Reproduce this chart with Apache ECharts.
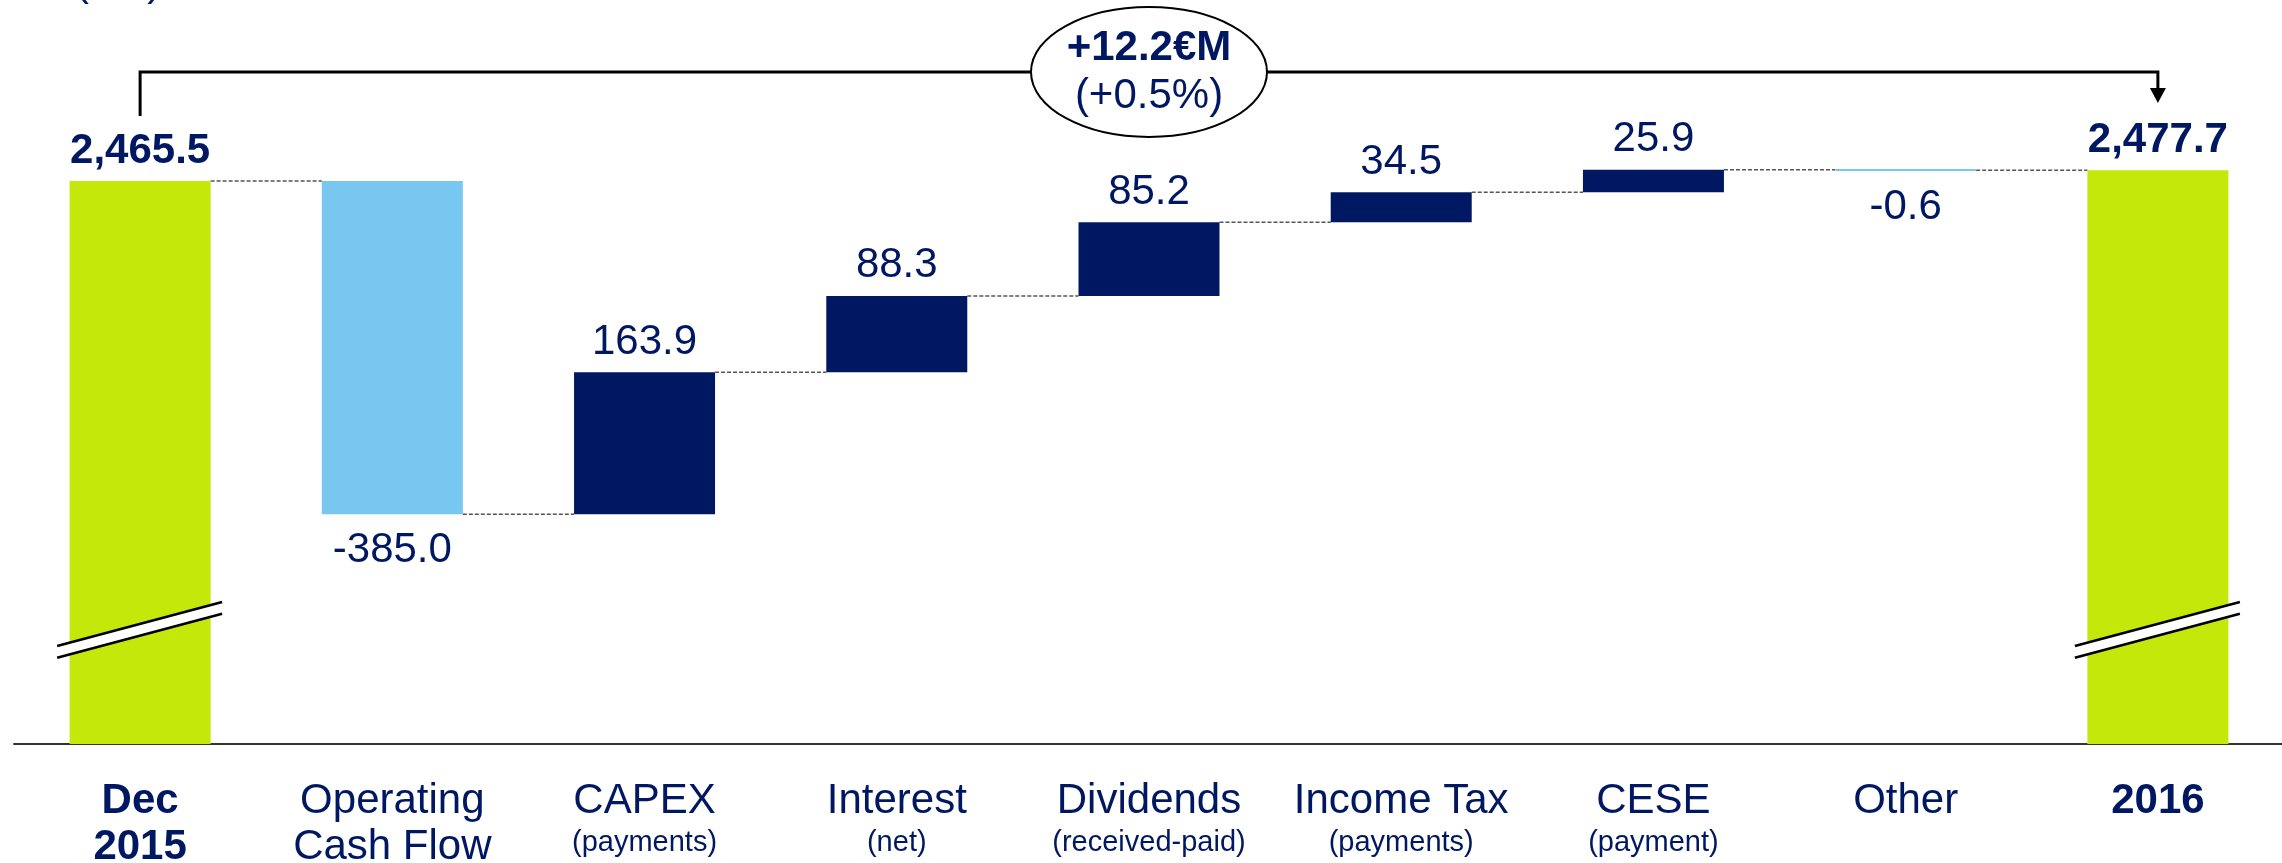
<!DOCTYPE html>
<html><head><meta charset="utf-8">
<script src="https://cdn.jsdelivr.net/npm/echarts@6/dist/echarts.min.js"></script>
<style>html,body{margin:0;padding:0;background:#fff}#c{width:2282px;height:863px}</style>
</head><body><div id="c"></div>
<script>
// ---- data ----
const categories = ['Dec\n2015', 'Operating\nCash Flow', 'CAPEX', 'Interest', 'Dividends', 'Income Tax', 'CESE', 'Other', '2016'];
const subLabels = ['', '', '(payments)', '(net)', '(received-paid)', '(payments)', '(payment)', '', ''];
const values = [2465.5, -385.0, 163.9, 88.3, 85.2, 34.5, 25.9, -0.6, 2477.7];
const isTotal = [true, false, false, false, false, false, false, false, true];
const changeLabel = '+12.2€M';
const changePctLabel = '(+0.5%)';
const unitLabel = '(€M)';

// ---- style ----
const FONT = 'Liberation Sans, Arial, sans-serif';
const NAVY = '#001862';
const LBLUE = '#78C7F1';
const GREEN = '#C5E80B';

// ---- waterfall decomposition ----
let running = 0;
const base = [], pos = [], neg = [], tot = [], levels = [];
values.forEach((v, i) => {
  if (isTotal[i]) { base.push(0); tot.push(v); pos.push('-'); neg.push('-'); running = v; }
  else {
    const after = running + v;
    base.push(Math.min(running, after));
    if (v >= 0) { pos.push(v); neg.push('-'); } else { neg.push(-v); pos.push('-'); }
    tot.push('-');
    running = after;
  }
  levels.push(running);
});
const connectorData = levels.slice(0, -1).map((l, i) => [i, l]);

const fmtTotal = v => v.toLocaleString('en-US', { minimumFractionDigits: 1, maximumFractionDigits: 1 });
const BW = 141;

const chart = echarts.init(document.getElementById('c'), null, { renderer: 'canvas' });
chart.setOption({
  animation: false,
  textStyle: { fontFamily: FONT },
  grid: { left: 14, right: -2, top: 100, bottom: 119, containLabel: false, outerBoundsMode: 'none' },
  xAxis: {
    type: 'category',
    data: categories,
    axisLine: { lineStyle: { color: '#333', width: 2 } },
    axisTick: { show: false },
    axisLabel: {
      interval: 0, margin: 34,
      formatter: (v, i) => {
        const st = isTotal[i] ? 'b' : 'a';
        const lines = v.split('\n').map(t => '{' + st + '|' + t + '}');
        if (subLabels[i]) lines.push('{s|' + subLabels[i] + '}');
        return lines.join('\n');
      },
      rich: {
        a: { fontFamily: FONT, fontSize: 42, lineHeight: 46, color: NAVY },
        b: { fontFamily: FONT, fontSize: 42, lineHeight: 46, color: NAVY, fontWeight: 'bold' },
        s: { fontFamily: FONT, fontSize: 29, lineHeight: 38, color: NAVY }
      }
    }
  },
  yAxis: { type: 'value', min: 1815, max: 2559, show: false, splitLine: { show: false } },
  series: [
    { name: 'base', type: 'bar', stack: 'w', data: base, barWidth: BW, itemStyle: { color: 'transparent' }, silent: true },
    { name: 'increase', type: 'bar', stack: 'w', data: pos, barWidth: BW, itemStyle: { color: NAVY },
      label: { show: true, position: 'top', distance: 9, color: NAVY, fontSize: 42, fontFamily: FONT,
        formatter: p => values[p.dataIndex].toFixed(1) } },
    { name: 'decrease', type: 'bar', stack: 'w', data: neg, barWidth: BW,
      itemStyle: { color: LBLUE, borderColor: LBLUE, borderWidth: 2 },
      label: { show: true, position: 'bottom', distance: 15, color: NAVY, fontSize: 42, fontFamily: FONT,
        formatter: p => values[p.dataIndex].toFixed(1) } },
    { name: 'total', type: 'bar', stack: 'w', data: tot, barWidth: BW, itemStyle: { color: GREEN },
      label: { show: true, position: 'top', distance: 9, color: NAVY, fontSize: 42, fontWeight: 'bold', fontFamily: FONT,
        formatter: p => fmtTotal(values[p.dataIndex]) } },
    { name: 'connectors', type: 'custom', data: connectorData, silent: true, z: 1,
      renderItem: (params, api) => {
        const i = api.value(0), l = api.value(1);
        const p1 = api.coord([i, l]), p2 = api.coord([i + 1, l]);
        return { type: 'line', shape: { x1: p1[0] + BW / 2, y1: p1[1], x2: p2[0] - BW / 2, y2: p2[1] },
          style: { stroke: '#555', lineWidth: 1.5, lineDash: [4, 2] } };
      } }
  ]
});

// ---- annotations ----
const xFirst = chart.convertToPixel({ xAxisIndex: 0 }, 0);
const xLast = chart.convertToPixel({ xAxisIndex: 0 }, categories.length - 1);
const xMid = (xFirst + xLast) / 2;
const g = [];
g.push({ type: 'polyline', z: 50, shape: { points: [[xFirst, 116], [xFirst, 72], [xLast, 72], [xLast, 89]] },
  style: { stroke: '#000', lineWidth: 3, fill: null } });
g.push({ type: 'polygon', z: 50, shape: { points: [[xLast - 8, 88], [xLast + 8, 88], [xLast, 103]] }, style: { fill: '#000' } });
g.push({ type: 'ellipse', z: 51, shape: { cx: xMid, cy: 72, rx: 118, ry: 65 }, style: { fill: '#fff', stroke: '#000', lineWidth: 2 } });
g.push({ type: 'text', z: 52, x: xMid, y: 48, style: { text: changeLabel, font: 'bold 42px ' + FONT, fill: NAVY, align: 'center', verticalAlign: 'middle' } });
g.push({ type: 'text', z: 52, x: xMid, y: 96, style: { text: changePctLabel, font: '42px ' + FONT, fill: NAVY, align: 'center', verticalAlign: 'middle' } });
g.push({ type: 'text', z: 52, x: 75, y: -38, style: { text: unitLabel, font: '42px ' + FONT, fill: NAVY, align: 'left', verticalAlign: 'top' } });
[xFirst, xLast].forEach(xc => {
  const a = [xc - 83, 646], b = [xc + 82, 602];
  g.push({ type: 'polygon', z: 60, shape: { points: [a, b, [b[0], b[1] + 11.7], [a[0], a[1] + 11.7]] }, style: { fill: '#fff' } });
  g.push({ type: 'line', z: 61, shape: { x1: a[0], y1: a[1], x2: b[0], y2: b[1] }, style: { stroke: '#000', lineWidth: 2.5 } });
  g.push({ type: 'line', z: 61, shape: { x1: a[0], y1: a[1] + 11.7, x2: b[0], y2: b[1] + 11.7 }, style: { stroke: '#000', lineWidth: 2.5 } });
});
chart.setOption({ graphic: g });
</script>
</body></html>
